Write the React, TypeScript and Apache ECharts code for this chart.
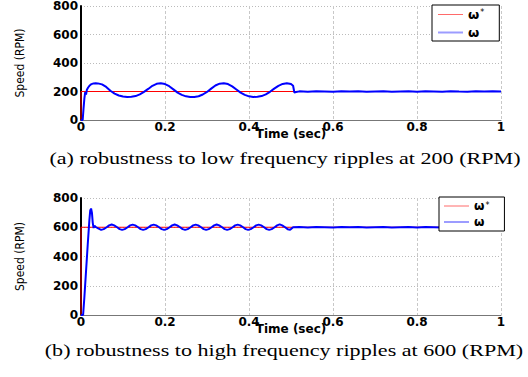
import React, { useEffect, useRef } from "react";
import * as echarts from "echarts";

// ---------- data ----------
const xTickInterval = 0.2;
const yTickInterval = 200;
const legendNames = ["ω*", "ω"];
const captionA = "(a) robustness to low frequency ripples at 200 (RPM)";
const captionB = "(b) robustness to high frequency ripples at 600 (RPM)";
const xName = "Time (sec)";
const yName = "Speed (RPM)";

// (a) reference speed
const refTimeA = [0, 0, 1];
const refSpeedA = [0, 200, 200];
// (a) measured speed
const timeA = [
  0, 0.004, 0.006, 0.008, 0.01, 0.012, 0.014, 0.017, 0.02, 0.025, 0.03, 0.035,
  0.04, 0.05, 0.06, 0.07, 0.08, 0.09, 0.1, 0.11, 0.12, 0.13, 0.14, 0.15, 0.16, 0.17, 0.18, 0.19,
  0.2, 0.21, 0.22, 0.23, 0.24, 0.25, 0.26, 0.27, 0.28, 0.29, 0.3, 0.31, 0.32, 0.33, 0.34,
  0.35, 0.36, 0.37, 0.38, 0.39, 0.4, 0.41, 0.42, 0.43, 0.44, 0.45, 0.46, 0.47, 0.48, 0.49,
  0.5, 0.505, 0.508, 0.512, 0.52,
  0.54, 0.56, 0.58, 0.6, 0.62, 0.64, 0.66, 0.68, 0.7, 0.72, 0.74, 0.76, 0.78, 0.8,
  0.82, 0.84, 0.86, 0.88, 0.9, 0.92, 0.94, 0.96, 0.98, 1,
];
const speedA = [
  0, 0, 80, 150, 195, 178, 212, 228, 240, 252, 257, 258,
  257, 250, 232, 205, 185, 172, 165, 162, 163, 168, 180, 197, 218, 240, 254, 258,
  252, 237, 215, 192, 176, 166, 162, 162, 167, 179, 197, 220, 242, 255, 258,
  252, 236, 214, 192, 176, 166, 162, 163, 168, 180, 198, 220, 240, 253, 258,
  252, 240, 193, 196, 201,
  199, 202, 200, 198, 201, 200, 202, 199, 200, 201, 198, 200, 202, 199,
  201, 200, 198, 202, 200, 199, 201, 200, 202, 200,
];

// (b) reference speed
const refTimeB = [0, 0, 1];
const refSpeedB = [0, 600, 600];
// (b) measured speed
const timeB = [
  0, 0.005, 0.008, 0.012, 0.016, 0.02, 0.022, 0.024, 0.026, 0.028, 0.03, 0.032, 0.036, 0.042,
  0.048, 0.054, 0.061, 0.067, 0.073, 0.079, 0.086, 0.092,
  0.098, 0.104, 0.111, 0.117, 0.123, 0.129, 0.136, 0.142,
  0.148, 0.154, 0.161, 0.167, 0.173, 0.179, 0.186, 0.192,
  0.198, 0.204, 0.211, 0.217, 0.223, 0.229, 0.236, 0.242,
  0.248, 0.254, 0.261, 0.267, 0.273, 0.279, 0.286, 0.292,
  0.298, 0.304, 0.311, 0.317, 0.323, 0.329, 0.336, 0.342,
  0.348, 0.354, 0.361, 0.367, 0.373, 0.379, 0.386, 0.392,
  0.398, 0.404, 0.411, 0.417, 0.423, 0.429, 0.436, 0.442,
  0.448, 0.454, 0.461, 0.467, 0.473, 0.479, 0.486, 0.492,
  0.498, 0.505,
  0.52, 0.54, 0.56, 0.58, 0.6, 0.62, 0.64, 0.66, 0.68, 0.7, 0.72, 0.74, 0.76, 0.78, 0.8,
  0.82, 0.84, 0.86, 0.88, 0.9, 0.92, 0.94, 0.96, 0.98, 1,
];
const speedB = [
  0, 0, 120, 300, 480, 650, 715, 728, 700, 630, 595, 610, 600, 590,
  582, 587, 600, 613, 619, 613, 600, 587,
  582, 587, 600, 613, 618, 613, 600, 587,
  582, 587, 600, 613, 618, 613, 600, 587,
  582, 587, 600, 613, 619, 613, 600, 587,
  582, 587, 600, 613, 618, 613, 600, 587,
  582, 587, 600, 613, 619, 613, 600, 587,
  582, 587, 600, 613, 618, 613, 600, 587,
  582, 587, 600, 613, 618, 613, 600, 587,
  582, 587, 600, 613, 620, 613, 600, 587,
  583, 600,
  601, 599, 602, 600, 598, 601, 600, 602, 599, 600, 601, 598, 600, 602, 599,
  601, 600, 598, 602, 600, 599, 601, 600, 602, 600,
];

const zip = (t: number[], v: number[]) => t.map((x, i) => [x, v[i]]);

const tickFont = "'DejaVu Sans', sans-serif";

function makeXAxis(gridIndex: number) {
  return {
    gridIndex,
    type: "value",
    min: 0,
    max: 1,
    interval: xTickInterval,
    name: xName,
    nameLocation: "middle",
    nameGap: 8,
    nameMoveOverlap: false,
    nameTextStyle: { color: "#000", fontFamily: tickFont, fontWeight: "bold", fontSize: 12 },
    axisLine: { show: true, onZero: false, lineStyle: { color: "#777", width: 1 } },
    axisTick: { show: false },
    axisLabel: { margin: 1, color: "#000", fontFamily: tickFont, fontWeight: "bold", fontSize: 12 },
    splitLine: { show: true, lineStyle: { color: "#c8c8c8", type: [3, 2], width: 1 } },
  };
}

function makeYAxis(gridIndex: number) {
  return {
    gridIndex,
    type: "value",
    min: 0,
    max: 800,
    interval: yTickInterval,
    name: yName,
    nameLocation: "middle",
    nameGap: 55,
    nameMoveOverlap: false,
    nameTextStyle: {
      color: "#000",
      fontFamily: "'Liberation Sans Narrow', 'DejaVu Sans Condensed', 'Liberation Sans', sans-serif",
      fontSize: 12,
    },
    axisLine: { show: true, lineStyle: { color: "#000", width: 2 } },
    axisTick: { show: false },
    axisLabel: { margin: 3, color: "#000", fontFamily: tickFont, fontWeight: "bold", fontSize: 12 },
    splitLine: { show: true, lineStyle: { color: "#bbbbbb", type: [1, 2], width: 1 } },
  };
}

function makeLegend(
  left: number,
  top: number,
  itemH: number,
  gap: number,
  fontSize: number,
  pad: number[]
) {
  return {
    left,
    top,
    orient: "vertical",
    data: [
      { name: legendNames[0], lineStyle: { width: 1, color: "#ff6a6a" }, itemStyle: { opacity: 0 } },
      { name: legendNames[1], lineStyle: { width: 2, color: "#9c9cff" }, itemStyle: { opacity: 0 } },
    ],
    itemWidth: 25,
    itemHeight: itemH,
    itemGap: gap,
    padding: pad,
    backgroundColor: "#fff",
    borderColor: "#000",
    borderWidth: 1,
    selectedMode: false,
    formatter: (name: string) => (name === legendNames[0] ? "{w|ω}{s|*}" : "{w|ω}"),
    textStyle: {
      lineHeight: itemH,
      rich: {
        w: {
          fontSize,
          height: itemH,
          lineHeight: itemH,
          fontWeight: "bold",
          fontFamily: tickFont,
          color: "#000",
        },
        s: {
          fontSize: 8,
          height: 6,
          lineHeight: 6,
          verticalAlign: "top",
          color: "#000",
          fontFamily: tickFont,
          padding: [0, 0, 0, 1],
        },
      },
    },
  };
}

function makeSeries(idx: number, refT: number[], refV: number[], t: number[], v: number[]) {
  return [
    {
      name: legendNames[0],
      type: "line",
      xAxisIndex: idx,
      yAxisIndex: idx,
      data: zip(refT, refV),
      symbol: "none",
      showSymbol: false,
      lineStyle: { color: "#ff0000", width: 1 },
      itemStyle: { color: "#ff0000" },
      z: 2,
    },
    {
      name: legendNames[1],
      type: "line",
      xAxisIndex: idx,
      yAxisIndex: idx,
      data: zip(t, v),
      symbol: "none",
      showSymbol: false,
      lineStyle: { color: "#0000ff", width: 2 },
      itemStyle: { color: "#0000ff" },
      z: 3,
    },
  ];
}

export default function App() {
  const ref = useRef<HTMLDivElement>(null);
  useEffect(() => {
    if (!ref.current) return;
    const chart = echarts.init(ref.current, null, { renderer: "svg" });
    chart.setOption({
      animation: false,
      backgroundColor: "#fff",
      grid: [
        { left: 81, top: 5, width: 420, height: 115 },
        { left: 81, top: 198, width: 420, height: 117 },
      ],
      xAxis: [makeXAxis(0), makeXAxis(1)],
      yAxis: [makeYAxis(0), makeYAxis(1)],
      legend: [
        makeLegend(432, 5, 10, 5, 13, [3, 15, 2, 5]),
        makeLegend(439, 197, 8, 4, 12, [3, 15, 3, 4]),
      ],
      series: [
        ...makeSeries(0, refTimeA, refSpeedA, timeA, speedA),
        ...makeSeries(1, refTimeB, refSpeedB, timeB, speedB),
      ],
      graphic: [
        {
          type: "text",
          x: 285,
          y: 158,
          scaleX: 1.3,
          style: {
            text: captionA,
            fontSize: 17,
            fontFamily: "'Liberation Serif', 'Times New Roman', serif",
            fill: "#000",
            align: "center",
            verticalAlign: "middle",
          },
        },
        {
          type: "text",
          x: 284,
          y: 350,
          scaleX: 1.3,
          style: {
            text: captionB,
            fontSize: 17,
            fontFamily: "'Liberation Serif', 'Times New Roman', serif",
            fill: "#000",
            align: "center",
            verticalAlign: "middle",
          },
        },
      ],
    });
    return () => chart.dispose();
  }, []);
  return (
    <div
      ref={ref}
      style={{ position: "absolute", left: 0, top: 0, width: 528, height: 377, background: "#fff" }}
    />
  );
}
